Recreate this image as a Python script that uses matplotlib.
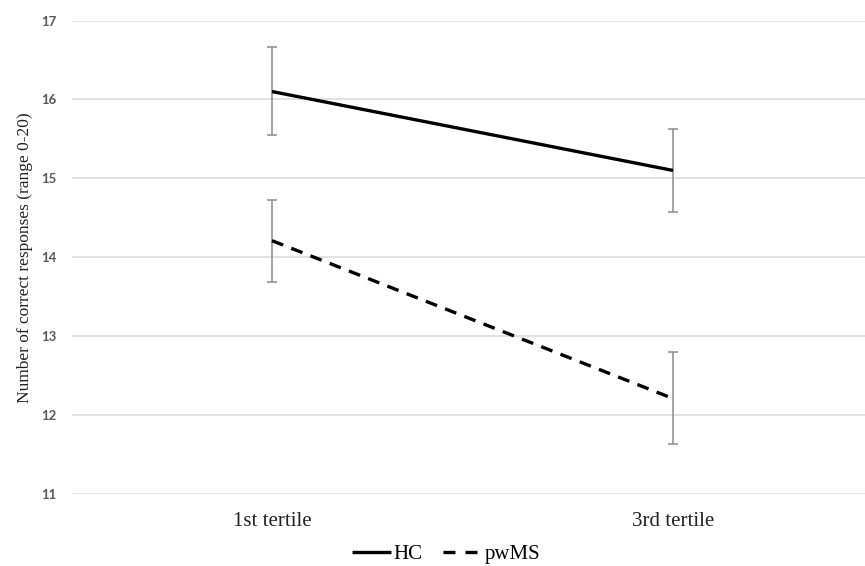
import numpy as np
import matplotlib
matplotlib.use("Agg")
import matplotlib.pyplot as plt
from matplotlib.lines import Line2D

categories = ["1st tertile", "3rd tertile"]
hc_mean = [16.1, 15.1]
hc_low = [15.55, 14.57]
hc_high = [16.66, 15.63]
ms_mean = [14.21, 12.21]
ms_low = [13.69, 11.63]
ms_high = [14.73, 12.80]
yticks = [11, 12, 13, 14, 15, 16, 17]

serif = "Liberation Serif"
x = np.arange(len(categories))

fig = plt.figure(figsize=(8.65, 5.66), dpi=100)
ax = fig.add_axes([72/865, 72/566, 793/865, 473.5/566])

for yv in yticks:
    ax.axhline(yv, color="#d9d9d9", lw=1.1, zorder=0)

ebar = dict(fmt="none", ecolor="#8c8c8c", elinewidth=1.1, capsize=3.5, capthick=1.1, zorder=2)
ax.errorbar(x, hc_mean, yerr=[np.subtract(hc_mean, hc_low), np.subtract(hc_high, hc_mean)], **ebar)
ax.errorbar(x, ms_mean, yerr=[np.subtract(ms_mean, ms_low), np.subtract(ms_high, ms_mean)], **ebar)

ax.plot(x, hc_mean, color="black", lw=2.4, solid_capstyle="butt", zorder=3)
ax.plot(x, ms_mean, color="black", lw=2.4, dashes=(3.6, 2.6), zorder=3)

ax.set_ylim(11, 17)
ax.set_xlim(-200/401, 1 + 192/401)
ax.set_yticks(yticks)
ax.set_xticks(x)
ax.set_xticklabels(categories, fontfamily=serif, fontsize=15, color="#222222")
ax.tick_params(axis="both", length=0)
ax.tick_params(axis="x", pad=13)
ax.tick_params(axis="y", pad=11, labelsize=9.5, labelcolor="#595959")
for lbl in ax.get_yticklabels():
    lbl.set_fontfamily("Lato")
    lbl.set_fontweight("bold")
for s in ax.spines.values():
    s.set_visible(False)

ax.set_ylabel("Number of correct responses (range 0-20)", fontfamily=serif, fontsize=12.5,
              color="#222222", labelpad=6)

handles = [Line2D([], [], color="black", lw=2.4, solid_capstyle="butt"),
           Line2D([], [], color="black", lw=2.4, dashes=(3.6, 3.0))]
fig.legend(handles, ["HC", "pwMS"], loc="center", bbox_to_anchor=(446/865, 1 - 554/566),
           ncol=2, frameon=False, prop={"family": serif, "size": 15},
           handlelength=1.9, handletextpad=0.1, columnspacing=1.0)

fig.savefig("out.png", dpi=100)
